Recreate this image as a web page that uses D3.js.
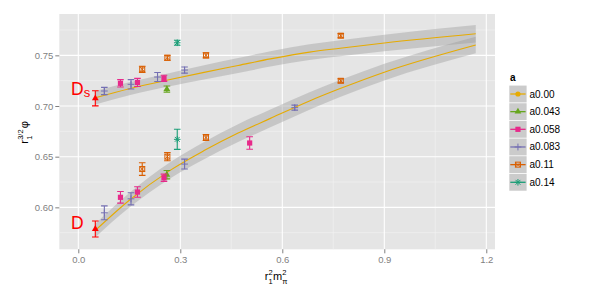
<!DOCTYPE html>
<html><head><meta charset="utf-8">
<script src="https://cdn.jsdelivr.net/npm/d3@7/dist/d3.min.js"></script>
<style>
body{margin:0;background:#fff;}
svg{display:block;font-family:"Liberation Sans",Arial,Helvetica,sans-serif;}
</style></head>
<body><svg id="c" width="590" height="295"></svg>
<script>
// ---------- data ----------
const seriesNames  = ["a0.00","a0.043","a0.058","a0.083","a0.11","a0.14"];
const seriesColors = ["#E6AB02","#66A61E","#E7298A","#7570B3","#D95F02","#1B9E77"];
const seriesShapes = ["circle","triangle","square","plus","squarecross","asterisk"];

// lattice points: series, x = r1^2 m_pi^2, y = r1^{3/2} phi, error
const ptSeries = ["a0.043","a0.058","a0.058","a0.058","a0.083","a0.083","a0.083","a0.083","a0.11","a0.11","a0.11","a0.11","a0.14",
                  "a0.043","a0.058","a0.058","a0.058","a0.058","a0.083","a0.083","a0.083","a0.083","a0.11","a0.11","a0.11","a0.11","a0.14"];
const ptX   = [0.2605,0.124,0.174,0.252,0.0766,0.155,0.233,0.3125,0.188,0.262,0.3755,0.772,0.291,
               0.2605,0.124,0.174,0.252,0.504,0.0766,0.155,0.3125,0.6366,0.188,0.262,0.3755,0.772,0.291];
const ptY   = [0.7167,0.7224,0.7233,0.7273,0.7148,0.7214,0.7286,0.7355,0.7362,0.7476,0.7500,0.7694,0.7624,
               0.6322,0.6099,0.6151,0.6292,0.6635,0.5946,0.6084,0.6427,0.6984,0.6378,0.6500,0.6689,0.7249,0.6671];
const ptErr = [0.0030,0.0036,0.0040,0.0030,0.0036,0.0046,0.0044,0.0030,0.0030,0.0025,0.0025,0.0020,0.0025,
               0.0041,0.0057,0.0052,0.0036,0.0062,0.0069,0.0060,0.0049,0.0025,0.0062,0.0040,0.0030,0.0020,0.0099];

// physical (red) points
const physX   = [0.05, 0.05];
const physY   = [0.7076, 0.5786];
const physErr = [0.0075, 0.0079];
const physLabel = ["Ds", "D"];
const physLabelX = [-0.0215, -0.0215];
const physLabelY = [0.7108, 0.5783];

// continuum fits (a0.00) with error band half widths
const fitX    = [0.05,0.15,0.27,0.37,0.47,0.565,0.68,0.77,0.9,1.169];
const fitDs   = [0.7081,0.7171,0.7261,0.7332,0.7400,0.7465,0.7532,0.7570,0.7622,0.7713];
const bandDs  = [0.0066,0.0064,0.0066,0.0070,0.0074,0.0076,0.0078,0.0080,0.0082,0.0086];
const fitD    = [0.5772,0.6070,0.6365,0.6560,0.6733,0.6878,0.7050,0.7172,0.7334,0.7602];
const bandD   = [0.0066,0.0072,0.0080,0.0085,0.0088,0.0088,0.0086,0.0084,0.0082,0.0082];

const xTicks = [0.0,0.3,0.6,0.9,1.2];
const xMinor = [0.15,0.45,0.75,1.05];
const yTicks = [0.60,0.65,0.70,0.75];
const yMinor = [0.575,0.625,0.675,0.725,0.775];

// ---------- layout ----------
const P = {l:59.3, r:495, t:14, b:249.3};
const x = d3.scaleLinear().domain([-0.0559,1.2256]).range([P.l,P.r]);
const y = d3.scaleLinear().domain([0.5586,0.7908]).range([P.b,P.t]);
const svg = d3.select("#c");
const grey = "#7F7F7F";
const colorOf = s => seriesColors[seriesNames.indexOf(s)];
const shapeOf = s => seriesShapes[seriesNames.indexOf(s)];

// panel
svg.append("rect").attr("x",P.l).attr("y",P.t).attr("width",P.r-P.l).attr("height",P.b-P.t).attr("fill","#E5E5E5");
const g = svg.append("g");
g.selectAll(".mx").data(xMinor).join("line").attr("x1",d=>x(d)).attr("x2",d=>x(d)).attr("y1",P.t).attr("y2",P.b).attr("stroke","#F2F2F2").attr("stroke-width",0.6);
g.selectAll(".my").data(yMinor).join("line").attr("y1",d=>y(d)).attr("y2",d=>y(d)).attr("x1",P.l).attr("x2",P.r).attr("stroke","#F2F2F2").attr("stroke-width",0.6);
g.selectAll(".gx").data(xTicks).join("line").attr("x1",d=>x(d)).attr("x2",d=>x(d)).attr("y1",P.t).attr("y2",P.b).attr("stroke","#fff").attr("stroke-width",1.1);
g.selectAll(".gy").data(yTicks).join("line").attr("y1",d=>y(d)).attr("y2",d=>y(d)).attr("x1",P.l).attr("x2",P.r).attr("stroke","#fff").attr("stroke-width",1.1);

// axes
const xAxis = d3.axisBottom(x).tickValues(xTicks).tickFormat(d3.format(".1f")).tickSize(4).tickPadding(3);
const yAxis = d3.axisLeft(y).tickValues(yTicks).tickFormat(d3.format(".2f")).tickSize(4).tickPadding(2);
const gx = svg.append("g").attr("transform",`translate(0,${P.b})`).call(xAxis);
const gy = svg.append("g").attr("transform",`translate(${P.l},0)`).call(yAxis);
[gx,gy].forEach(a=>{
  a.select(".domain").remove();
  a.selectAll(".tick line").attr("stroke",grey).attr("stroke-width",1);
  a.selectAll(".tick text").attr("fill",grey).attr("font-size","9.5px").attr("font-family","Liberation Sans, Arial, sans-serif");
});

// bands and fit lines
const fitRows = (f,b) => fitX.map((xv,i)=>({x:xv,y:f[i],lo:f[i]-b[i],hi:f[i]+b[i]}));
const area = d3.area().x(d=>x(d.x)).y0(d=>y(d.lo)).y1(d=>y(d.hi)).curve(d3.curveMonotoneX);
const line = d3.line().x(d=>x(d.x)).y(d=>y(d.y)).curve(d3.curveMonotoneX);
[[fitDs,bandDs],[fitD,bandD]].forEach(([f,b])=>{
  svg.append("path").datum(fitRows(f,b)).attr("d",area).attr("fill","#999999").attr("fill-opacity",0.4);
});
[[fitDs,bandDs],[fitD,bandD]].forEach(([f,b])=>{
  svg.append("path").datum(fitRows(f,b)).attr("d",line).attr("fill","none").attr("stroke",colorOf("a0.00")).attr("stroke-width",1.1);
});

// symbol drawing
function drawSymbol(sel, shape, color, cx, cy){
  const s = sel.append("g").attr("transform",`translate(${cx},${cy})`);
  if(shape==="circle") s.append("circle").attr("r",2.6).attr("fill",color);
  else if(shape==="triangle") s.append("path").attr("d",d3.symbol(d3.symbolTriangle,20)()).attr("fill",color);
  else if(shape==="square") s.append("rect").attr("x",-2.6).attr("y",-2.6).attr("width",5.2).attr("height",5.2).attr("fill",color);
  else if(shape==="plus") s.append("path").attr("d","M-3.4,0H3.4M0,-3.4V3.4").attr("stroke",color).attr("stroke-width",1).attr("fill","none");
  else if(shape==="squarecross"){
    s.append("rect").attr("x",-2.5).attr("y",-2.5).attr("width",5).attr("height",5).attr("fill","none").attr("stroke",color).attr("stroke-width",1);
    s.append("path").attr("d","M-2.5,-2.5L2.5,2.5M-2.5,2.5L2.5,-2.5").attr("stroke",color).attr("stroke-width",0.9);
  } else if(shape==="asterisk") s.append("path").attr("d","M-3.3,0H3.3M0,-3.3V3.3M-2.4,-2.4L2.4,2.4M-2.4,2.4L2.4,-2.4").attr("stroke",color).attr("stroke-width",1).attr("fill","none");
}
function errBar(sel,color,xv,yv,e){
  const cx=x(xv), cap=3.3;
  sel.append("path").attr("d",`M${cx-cap},${y(yv+e)}H${cx+cap}M${cx},${y(yv+e)}V${y(yv-e)}M${cx-cap},${y(yv-e)}H${cx+cap}`)
    .attr("stroke",color).attr("stroke-width",1.1).attr("fill","none");
}
const pts = svg.append("g");
ptX.forEach((xv,i)=>{
  const c = colorOf(ptSeries[i]);
  errBar(pts,c,xv,ptY[i],ptErr[i]);
  drawSymbol(pts,shapeOf(ptSeries[i]),c,x(xv),y(ptY[i]));
});
physX.forEach((xv,i)=>{
  errBar(pts,"#FF0000",xv,physY[i],physErr[i]);
  drawSymbol(pts,"triangle","#FF0000",x(xv),y(physY[i]));
  const t = svg.append("text").attr("x",x(physLabelX[i])).attr("y",y(physLabelY[i])).attr("fill","#FF0000").attr("font-size","17.5px");
  t.append("tspan").text(physLabel[i][0]);
  if(physLabel[i].length>1) t.append("tspan").attr("font-size","13px").attr("dy",2).text(physLabel[i].slice(1));
});

// axis titles (stacked sub/superscripts as separate text pieces)
function mathPiece(parent, txt, xx, yy, fs){
  parent.append("text").attr("x",xx).attr("y",yy).attr("font-size",fs+"px").attr("fill","#000").text(txt);
}
const xtG = svg.append("g").attr("transform",`translate(${(P.l+P.r)/2-12.5},280)`);
mathPiece(xtG,"r",0,0,11);
mathPiece(xtG,"1",3.8,3.6,7.5);
mathPiece(xtG,"2",3.8,-5.2,7.5);
mathPiece(xtG,"m",8.3,0,11);
mathPiece(xtG,"π",17.6,3.6,7.5);
mathPiece(xtG,"2",17.6,-5.2,7.5);

const ytG = svg.append("g").attr("transform",`translate(28,${(P.t+P.b)/2}) rotate(-90) translate(-12,0)`);
mathPiece(ytG,"r",0,0,11);
mathPiece(ytG,"1",3.8,3.6,7.5);
mathPiece(ytG,"3/2",3.8,-5.2,7.5);
mathPiece(ytG,"φ",15.5,0,11);

// legend
const L = {x:509.3, w:17.3, y0:94, step:17.66};
svg.append("text").attr("x",510).attr("y",80.5).attr("font-size","10px").attr("font-weight","bold").text("a");
seriesNames.forEach((s,i)=>{
  const cy = L.y0 + i*L.step;
  svg.append("rect").attr("x",L.x).attr("y",cy-L.step/2+0.4).attr("width",L.w).attr("height",L.step-0.8).attr("fill","#CBCBCB");
  svg.append("line").attr("x1",L.x+1).attr("x2",L.x+L.w-1).attr("y1",cy).attr("y2",cy).attr("stroke",seriesColors[i]).attr("stroke-width",1.3);
  drawSymbol(svg,seriesShapes[i],seriesColors[i],L.x+L.w/2,cy);
  svg.append("text").attr("x",529.5).attr("y",cy).attr("dy","0.35em").attr("font-size","10px").attr("fill","#000").text(s);
});
</script></body></html>
